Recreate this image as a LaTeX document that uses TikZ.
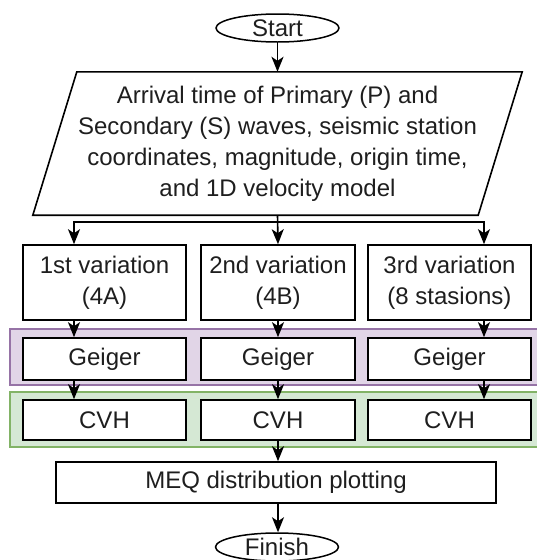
\documentclass[tikz,border=0pt]{standalone}
\usepackage{fontspec}
\setmainfont{Liberation Sans}
\usetikzlibrary{arrows.meta,shapes.geometric}
\definecolor{bandpurple}{HTML}{E1D5E7}
\definecolor{edgepurple}{HTML}{9673A6}
\definecolor{bandgreen}{HTML}{D5E8D4}
\definecolor{edgegreen}{HTML}{82B366}
\definecolor{inkgray}{HTML}{1E1E1E}

\tikzset{
  label font/.style={font=\fontsize{24pt}{31pt}\selectfont, text=inkgray},
  terminal/.style={ellipse, draw, line width=1.5pt, inner sep=0pt,
    minimum width=123pt, minimum height=28pt, label font},
  stepbox/.style={rectangle, draw, line width=1.6pt, fill=white, inner sep=0pt,
    align=center, label font},
  tip/.tip={Stealth[length=15pt,width=12pt,inset=4pt]},
  flow/.style={line width=1.6pt, -tip}
}

\begin{document}
\begin{tikzpicture}[x=1pt,y=-1pt]
    \useasboundingbox (0,0) rectangle (536,560);

    % lanes behind the Geiger and CVH rows
    \draw[edgepurple, fill=bandpurple, line width=1.6pt] (10,329) rectangle (545,385);
    \draw[edgegreen, fill=bandgreen, line width=1.6pt] (10,392) rectangle (545,447);

    \coordinate (lane1) at (74,0);
    \coordinate (lane2) at (278,0);
    \coordinate (lane3) at (484,0);

    \node[terminal] (start) at (277.5,28) {Start};

    \node[label font, align=center, inner sep=0pt, minimum width=445pt, minimum height=143pt] (data) at (277.5,143.5)
        {Arrival time of Primary (P) and\\Secondary (S) waves, seismic station\\coordinates, magnitude, origin time,\\and 1D velocity model};
    \draw[line width=1.6pt] ([xshift=-22pt]data.south west) -- ([xshift=22pt]data.north west)
        -- ([xshift=22pt]data.north east) -- ([xshift=-22pt]data.south east) -- cycle;

    \node[stepbox, minimum width=163pt, minimum height=75pt] (v1) at (104.5,282.5) {1st variation\\(4A)};
    \node[stepbox, minimum width=154pt, minimum height=75pt] (v2) at (278,282.5) {2nd variation\\(4B)};
    \node[stepbox, minimum width=163pt, minimum height=75pt] (v3) at (449.5,282.5) {3rd variation\\(8 stasions)};

    \node[stepbox, minimum width=163pt, minimum height=42pt] (g1) at (104.5,359) {Geiger};
    \node[stepbox, minimum width=154pt, minimum height=42pt] (g2) at (278,359) {Geiger};
    \node[stepbox, minimum width=163pt, minimum height=42pt] (g3) at (449.5,359) {Geiger};

    \node[stepbox, minimum width=163pt, minimum height=40pt] (c1) at (104.5,420) {CVH};
    \node[stepbox, minimum width=154pt, minimum height=40pt] (c2) at (278,420) {CVH};
    \node[stepbox, minimum width=163pt, minimum height=40pt] (c3) at (449.5,420) {CVH};

    \node[stepbox, minimum width=440pt, minimum height=41pt] (meq) at (276,482.5) {MEQ distribution plotting};

    \node[terminal] (finish) at (277,547) {Finish};

    \draw[flow] (start.south) -- (data.north);
    \draw[flow] (data.south) -- ++(0,7) -| (v1.north -| lane1);
    \draw[flow] (data.south) -- (v2.north -| lane2);
    \draw[flow] (data.south) -- ++(0,7) -| (v3.north -| lane3);

    \draw[flow] (v1.south -| lane1) -- (g1.north -| lane1);
    \draw[flow] (v2.south -| lane2) -- (g2.north -| lane2);
    \draw[flow] (v3.south -| lane3) -- (g3.north -| lane3);
    \draw[flow] (g1.south -| lane1) -- (c1.north -| lane1);
    \draw[flow] (g2.south -| lane2) -- (c2.north -| lane2);
    \draw[flow] (g3.south -| lane3) -- (c3.north -| lane3);

    \draw[flow] (c2.south -| lane2) -- (meq.north -| lane2);
    \draw[flow] (meq.south -| lane2) -- (finish.north -| lane2);
\end{tikzpicture}
\end{document}
